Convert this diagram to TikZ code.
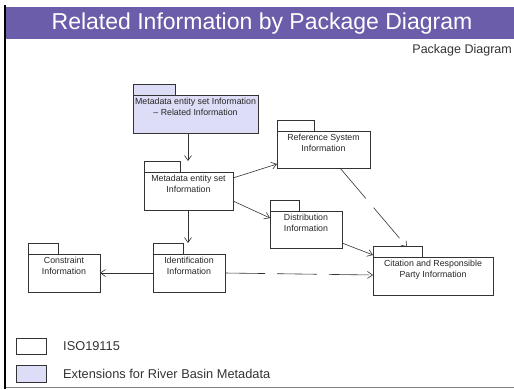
\documentclass[tikz,border=0pt]{standalone}
\usepackage{fontspec}
\setmainfont{Liberation Sans}
\usetikzlibrary{arrows.meta}
\definecolor{barpurple}{HTML}{6B5DAA}
\definecolor{extfill}{HTML}{DDDDF7}
\definecolor{linegray}{HTML}{333333}
\tikzset{
  pkgbody/.style={draw=linegray, line width=0.8pt, fill=white, inner sep=0pt, outer sep=0pt},
  pkgtab/.style={draw=linegray, line width=0.8pt, fill=white},
  pkgtext/.style={font=\fontsize{8.8}{11}\selectfont, align=center, anchor=north, inner sep=0pt, text=black!85},
  dep/.style={draw=black!80, line width=0.6pt, -{Straight Barb[length=5pt,width=7pt]}},
  longdash/.style={dash pattern=on 40pt off 12pt},
  legendtext/.style={font=\fontsize{12.8}{15}\selectfont, anchor=west, text=black!80, inner sep=0pt}
}
% a package: body rectangle (left, top, right, bottom) with a tab of given width
\newcommand{\pkg}[8]{%
  \draw[pkgtab, #6] (#2,#3-11) rectangle (#2+#7,#3);
  \node[pkgbody, #6, minimum width=#4-#2, minimum height=#5-#3] (#1) at ({(#2+#4)/2},{(#3+#5)/2}) {};
  \node[pkgtext] (#1-label) at ([yshift=-3pt]#1.north) {#8};
}
\begin{document}
\begin{tikzpicture}[x=1pt,y=-1pt]
\useasboundingbox (0,0) rectangle (514,389);
\fill[white] (0,0) rectangle (514,389);
% frame and title bar
\fill[barpurple] (5,7) rectangle (514,39);
\draw[black!50, line width=0.6pt] (5,387) -- (514,387);
\draw[black, line width=1.8pt] (5,5) -- (5,389);
\node[font=\fontsize{23}{27}\selectfont, text=white] (title) at (262,23.5) {Related Information by Package Diagram};
\node[font=\fontsize{12.5}{15}\selectfont, anchor=east, text=black!80, inner sep=0pt] (subtitle) at (512,50) {Package Diagram};
% packages
\pkg{rel}{133}{95}{258}{133}{fill=extfill}{42}{Metadata entity set Information\\ -- Related Information}
\pkg{meta}{144}{172}{233}{210}{}{36}{Metadata entity set\\Information}
\pkg{refsys}{277}{131}{370}{168}{}{37}{Reference System\\Information}
\pkg{dist}{270}{211}{342}{248}{}{29}{Distribution\\Information}
\pkg{cit}{373}{257}{493}{295}{}{49}{Citation and Responsible\\Party Information}
\pkg{con}{28}{254}{100}{292}{}{30}{Constraint\\Information}
\pkg{ident}{153}{254}{225}{292}{}{30}{Identification\\Information}
% connector end points
\coordinate (relout) at (188,133);
\coordinate (metain) at (188,161);
\coordinate (metaout1) at (233,178);
\coordinate (refin) at (277,164);
\coordinate (metaout2) at (233,201);
\coordinate (distin) at (270,218);
\coordinate (metaout3) at (188,210);
\coordinate (identin) at (188,243);
\coordinate (identout1) at (153,273);
\coordinate (conin) at (100,273);
\coordinate (identout2) at (225,273);
\coordinate (citin1) at (373,275);
\coordinate (refout) at (340,168);
\coordinate (citin2) at (407,247);
\coordinate (distout) at (342,243);
\coordinate (citin3) at (373,255);
% dependencies
\draw[dep] (relout) -- (metain);
\draw[dep] (metaout1) -- (refin);
\draw[dep] (metaout2) -- (distin);
\draw[dep] (metaout3) -- (identin);
\draw[dep] (identout1) -- (conin);
\draw[dep, longdash] (identout2) -- (citin1);
\draw[dep, longdash] (refout) -- (citin2);
\draw[dep] (distout) -- (citin3);
% legend
\node[pkgbody, minimum width=30, minimum height=16] (leg1) at (31,346) {};
\node[pkgbody, fill=extfill, minimum width=30, minimum height=17] (leg2) at (31,373.5) {};
\node[legendtext] (leg1text) at (63,346) {ISO19115};
\node[legendtext] (leg2text) at (63,373.5) {Extensions for River Basin Metadata};
\end{tikzpicture}
\end{document}
